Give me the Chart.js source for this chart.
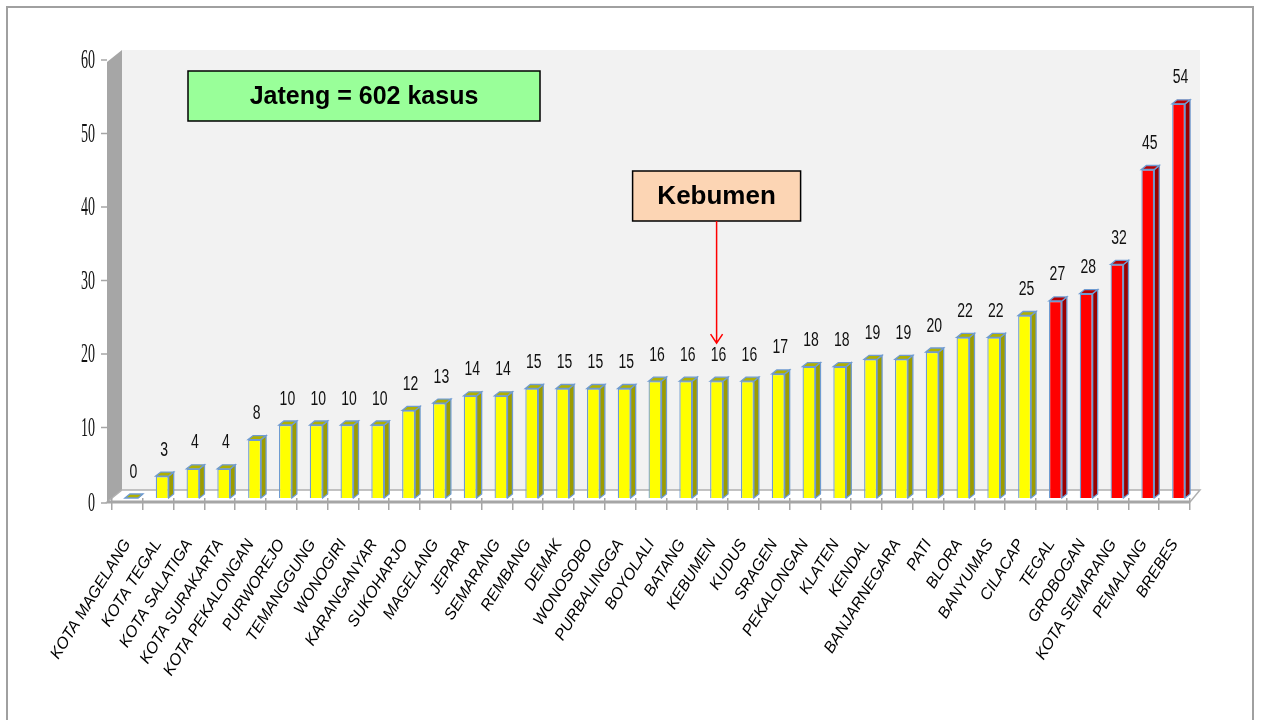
<!DOCTYPE html>
<html>
<head>
<meta charset="utf-8">
<script src="https://cdn.jsdelivr.net/npm/chart.js@4.4.0/dist/chart.umd.min.js"></script>
<style>
  body { margin: 0; background: #fff; }
  canvas { display: block; }
</style>
</head>
<body>
<canvas id="chart-1" width="1262" height="720"></canvas>
<script>
const regions = [
  "KOTA MAGELANG", "KOTA TEGAL", "KOTA SALATIGA", "KOTA SURAKARTA", "KOTA PEKALONGAN",
  "PURWOREJO", "TEMANGGUNG", "WONOGIRI", "KARANGANYAR", "SUKOHARJO",
  "MAGELANG", "JEPARA", "SEMARANG", "REMBANG", "DEMAK",
  "WONOSOBO", "PURBALINGGA", "BOYOLALI", "BATANG", "KEBUMEN",
  "KUDUS", "SRAGEN", "PEKALONGAN", "KLATEN", "KENDAL",
  "BANJARNEGARA", "PATI", "BLORA", "BANYUMAS", "CILACAP",
  "TEGAL", "GROBOGAN", "KOTA SEMARANG", "PEMALANG", "BREBES",
];
const cases = [
  0, 3, 4, 4, 8,
  10, 10, 10, 10, 12,
  13, 14, 14, 15, 15,
  15, 15, 16, 16, 16,
  16, 17, 18, 18, 19,
  19, 20, 22, 22, 25,
  27, 28, 32, 45, 54,
];
const topFive = ["TEGAL", "GROBOGAN", "KOTA SEMARANG", "PEMALANG", "BREBES"];
const yTicks = [0, 10, 20, 30, 40, 50, 60];
const totalText = "Jateng = 602 kasus";
const focusRegion = "KEBUMEN";

const isTop = regions.map((r) => topFive.includes(r));
const frontColors = isTop.map((t) => (t ? "#ff0000" : "#ffff00"));
const topColors = isTop.map((t) => (t ? "#b80000" : "#b0b000"));
const sideColors = isTop.map((t) => (t ? "#9a0000" : "#9c9c00"));

// depth of the bars
const DX = 5;
const DY = 4;
// bars sit a little right of the category ticks (3d look)
const SHIFT = 4;

const wallPlugin = {
  id: "walls",
  beforeDraw(chart) {
    const { ctx, chartArea: a } = chart;
    ctx.save();
    ctx.fillStyle = "#ffffff";
    ctx.fillRect(0, 0, chart.width, chart.height);
    ctx.strokeStyle = "#a0a0a0";
    ctx.lineWidth = 2;
    ctx.strokeRect(7, 7, 1246, 760);
    // back wall
    ctx.fillStyle = "#f2f2f2";
    ctx.fillRect(a.left + 10, a.top - 10, a.right - a.left, a.bottom - a.top + 2);
    // side wall
    ctx.fillStyle = "#a6a6a6";
    ctx.beginPath();
    ctx.moveTo(a.left - 5, a.top + 2);
    ctx.lineTo(a.left + 10, a.top - 10);
    ctx.lineTo(a.left + 10, a.bottom - 8);
    ctx.lineTo(a.left - 5, a.bottom + 4);
    ctx.closePath();
    ctx.fill();
    // floor
    ctx.fillStyle = "#ffffff";
    ctx.strokeStyle = "#b0b0b0";
    ctx.lineWidth = 1.5;
    ctx.beginPath();
    ctx.moveTo(a.left - 5, a.bottom + 4);
    ctx.lineTo(a.left + 10, a.bottom - 8);
    ctx.lineTo(a.right + 10, a.bottom - 8);
    ctx.lineTo(a.right, a.bottom + 4);
    ctx.closePath();
    ctx.fill();
    ctx.stroke();
    ctx.strokeStyle = "#a6a6a6";
    ctx.lineWidth = 3;
    ctx.beginPath();
    ctx.moveTo(a.left - 5, a.bottom + 4);
    ctx.lineTo(a.right, a.bottom + 4);
    ctx.stroke();
    // y axis ticks + labels
    const y = chart.scales.y;
    ctx.strokeStyle = "#a6a6a6";
    ctx.lineWidth = 1.5;
    ctx.fillStyle = "#111";
    ctx.font = '27px "Liberation Serif"';
    ctx.textAlign = "right";
    ctx.textBaseline = "middle";
    yTicks.forEach((v) => {
      const py = y.getPixelForValue(v) + (v === 0 ? 5 : 3 - v / 20);
      ctx.beginPath();
      ctx.moveTo(a.left - 11, py);
      ctx.lineTo(a.left - 5, py);
      ctx.stroke();
      ctx.save();
      ctx.translate(a.left - 17, py);
      ctx.scale(0.52, 1);
      ctx.fillText(String(v), 0, 1);
      ctx.restore();
    });
    ctx.restore();
  },
};

const bar3dPlugin = {
  id: "bar3d",
  beforeDatasetsDraw(chart) {
    chart.ctx.save();
    chart.ctx.translate(SHIFT, 0);
  },
  afterDatasetsDraw(chart) {
    const { ctx } = chart;
    const meta = chart.getDatasetMeta(0);
    ctx.lineWidth = 1.3;
    ctx.strokeStyle = "#6f9bd1";
    meta.data.forEach((bar, i) => {
      const w = bar.width;
      const l = bar.x - w / 2;
      const r = bar.x + w / 2;
      const t = bar.y;
      const b = bar.base;
      // side face
      ctx.fillStyle = sideColors[i];
      ctx.beginPath();
      ctx.moveTo(r, t);
      ctx.lineTo(r + DX, t - DY);
      ctx.lineTo(r + DX, b - DY);
      ctx.lineTo(r, b);
      ctx.closePath();
      ctx.fill();
      ctx.stroke();
      // top face
      ctx.fillStyle = topColors[i];
      ctx.beginPath();
      ctx.moveTo(l, t);
      ctx.lineTo(l + DX, t - DY);
      ctx.lineTo(r + DX, t - DY);
      ctx.lineTo(r, t);
      ctx.closePath();
      ctx.fill();
      ctx.stroke();
      // value label
      ctx.save();
      ctx.fillStyle = "#111";
      ctx.font = '20px "Liberation Sans"';
      ctx.textAlign = "center";
      ctx.textBaseline = "middle";
      ctx.translate(bar.x + 2, t - 26);
      ctx.scale(0.7, 1);
      ctx.fillText(String(cases[i]), 0, 0);
      ctx.restore();
    });
    ctx.restore();
  },
};

const notePlugin = {
  id: "notes",
  afterDraw(chart) {
    const { ctx } = chart;
    const y = chart.scales.y;
    ctx.save();
    // total box
    ctx.fillStyle = "#99ff99";
    ctx.strokeStyle = "#000";
    ctx.lineWidth = 1.5;
    ctx.fillRect(188, 71, 352, 50);
    ctx.strokeRect(188, 71, 352, 50);
    ctx.fillStyle = "#000";
    ctx.font = 'bold 25px "Liberation Sans"';
    ctx.textAlign = "center";
    ctx.textBaseline = "middle";
    ctx.fillText(totalText, 364, 97);
    // focus box + arrow
    const k = regions.indexOf(focusRegion);
    const bar = chart.getDatasetMeta(0).data[k];
    const cx = bar.x + SHIFT;
    ctx.fillStyle = "#fcd5b4";
    ctx.fillRect(cx - 84, 171, 168, 50);
    ctx.strokeRect(cx - 84, 171, 168, 50);
    ctx.fillStyle = "#000";
    ctx.font = 'bold 26px "Liberation Sans"';
    ctx.fillText(focusRegion.charAt(0) + focusRegion.slice(1).toLowerCase(), cx, 197);
    const tip = y.getPixelForValue(cases[k]) - 38;
    ctx.strokeStyle = "#ff0000";
    ctx.lineWidth = 1.5;
    ctx.beginPath();
    ctx.moveTo(cx, 221);
    ctx.lineTo(cx, tip);
    ctx.moveTo(cx - 6, tip - 9);
    ctx.lineTo(cx, tip);
    ctx.lineTo(cx + 6, tip - 9);
    ctx.stroke();
    ctx.restore();
  },
};

new Chart(document.getElementById("chart-1"), {
  type: "bar",
  data: {
    labels: regions,
    datasets: [
      {
        label: "kasus",
        data: cases,
        backgroundColor: frontColors,
        borderColor: "#6f9bd1",
        borderWidth: 1.3,
        barPercentage: 0.42,
        categoryPercentage: 1,
      },
    ],
  },
  options: {
    responsive: false,
    animation: false,
    layout: {
      padding: { left: 112, right: 72, top: 60, bottom: 0 },
    },
    plugins: {
      legend: { display: false },
      tooltip: { enabled: false },
    },
    scales: {
      x: {
        offset: true,
        border: { display: false },
        grid: {
          offset: true,
          drawOnChartArea: false,
          drawTicks: true,
          tickLength: 12,
          color: "#a6a6a6",
          lineWidth: 1.5,
        },
        ticks: {
          autoSkip: false,
          minRotation: 58,
          maxRotation: 58,
          padding: 26,
          color: "#000",
          font: { family: "Liberation Sans", size: 16, style: "italic" },
        },
        afterFit: function (scale) {
          scale.height = 222;
        },
      },
      y: {
        display: false,
        min: 0,
        max: 60,
        ticks: { stepSize: 10 },
      },
    },
  },
  plugins: [wallPlugin, bar3dPlugin, notePlugin],
});
</script>
</body>
</html>
